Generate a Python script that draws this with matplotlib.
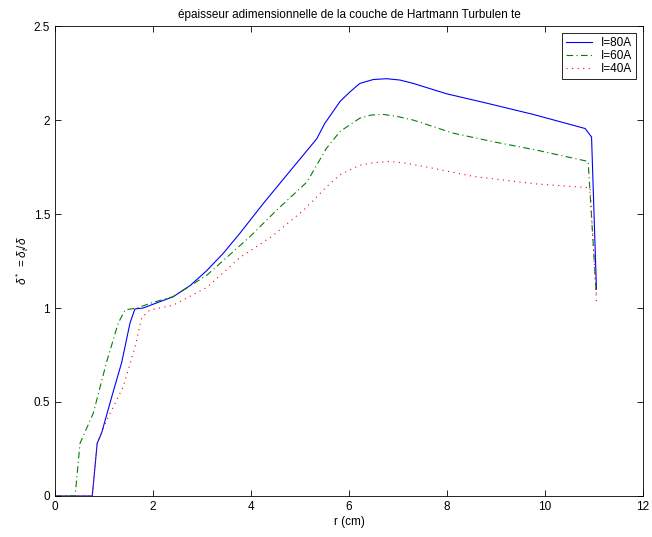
import matplotlib
matplotlib.use("Agg")
import matplotlib.pyplot as plt
import numpy as np

plt.rcParams["font.family"] = ["Liberation Sans", "DejaVu Sans"]
plt.rcParams["mathtext.fontset"] = "custom"
plt.rcParams["mathtext.rm"] = "Liberation Sans"
plt.rcParams["mathtext.it"] = "Liberation Sans:italic"

# I = 80 A
r_80 = [0.0, 0.76, 0.86, 0.95, 1.16, 1.36, 1.53, 1.63, 1.80, 2.0, 2.41, 2.76, 3.10,
        3.43, 3.78, 4.25, 4.80, 5.34, 5.50, 5.82, 6.02, 6.22, 6.50, 6.77, 7.04, 7.31,
        7.99, 8.81, 9.76, 10.82, 10.95, 11.05]
d_80 = [0.0, 0.0, 0.28, 0.335, 0.53, 0.71, 0.92, 0.995, 1.0, 1.02, 1.06, 1.12, 1.20,
        1.29, 1.40, 1.556, 1.73, 1.90, 1.98, 2.10, 2.15, 2.195, 2.216, 2.22, 2.213,
        2.195, 2.14, 2.09, 2.03, 1.955, 1.91, 1.10]

# I = 60 A
r_60 = [0.0, 0.41, 0.51, 0.78, 1.05, 1.29, 1.43, 1.67, 2.0, 2.41, 3.10, 3.98, 4.52,
        5.14, 5.54, 5.82, 6.02, 6.22, 6.46, 6.70, 6.97, 7.31, 8.13, 8.94, 9.83,
        10.88, 11.05]
d_60 = [0.0, 0.0, 0.28, 0.44, 0.71, 0.92, 0.99, 1.0, 1.03, 1.06, 1.175, 1.38, 1.52,
        1.67, 1.85, 1.94, 1.975, 2.01, 2.027, 2.03, 2.02, 2.0, 1.93, 1.885, 1.84,
        1.78, 1.06]

# I = 40 A
r_40 = [0.0, 0.76, 0.86, 1.05, 1.39, 1.63, 1.77, 1.94, 2.41, 3.10, 3.78, 4.42, 5.07,
        5.30, 5.54, 5.82, 6.22, 6.50, 6.84, 7.18, 7.59, 8.54, 9.83, 10.92, 11.05]
d_40 = [0.0, 0.0, 0.28, 0.40, 0.58, 0.79, 0.95, 0.99, 1.015, 1.11, 1.27, 1.38, 1.52,
        1.58, 1.645, 1.71, 1.76, 1.773, 1.78, 1.77, 1.75, 1.70, 1.66, 1.64, 1.03]

fig = plt.figure(figsize=(6.52, 5.37), dpi=100)
ax = fig.add_axes([0.0844, 0.0764, 0.9018, 0.875])

ax.plot(r_80, d_80, color="blue", lw=0.8, label="I=80A")
ax.plot(r_60, d_60, color=(0, 0.5, 0), lw=0.8, dashes=(6, 3, 1, 3), label="I=60A")
ax.plot(r_40, d_40, color="red", lw=0.8, dashes=(1, 4), label="I=40A")

ax.set_xlim(0, 12)
ax.set_ylim(0, 2.5)
ax.set_xticks(np.arange(0, 13, 2))
ax.set_yticks(np.arange(0, 2.51, 0.5))
ax.set_yticklabels(["0", "0.5", "1", "1.5", "2", "2.5"])
ax.tick_params(direction="in", top=True, right=True, labelsize=8.5, length=4, width=0.6)
for sp in ax.spines.values():
    sp.set_linewidth(0.6)

ax.set_xlabel("r (cm)", fontsize=8.5, labelpad=2)
ax.set_ylabel(r"$\delta^*\ = \delta_t/\delta$", fontsize=8.5, labelpad=2)
ax.set_title("épaisseur adimensionnelle de la couche de Hartmann Turbulen te",
             fontsize=8.5, pad=6)

leg = ax.legend(loc="upper right", fontsize=8.5, frameon=True, fancybox=False,
                edgecolor="black", framealpha=1, handlelength=2.2,
                borderpad=0.3, labelspacing=0.1, borderaxespad=0.6)
leg.get_frame().set_linewidth(0.6)

fig.savefig("out.png", dpi=100)
